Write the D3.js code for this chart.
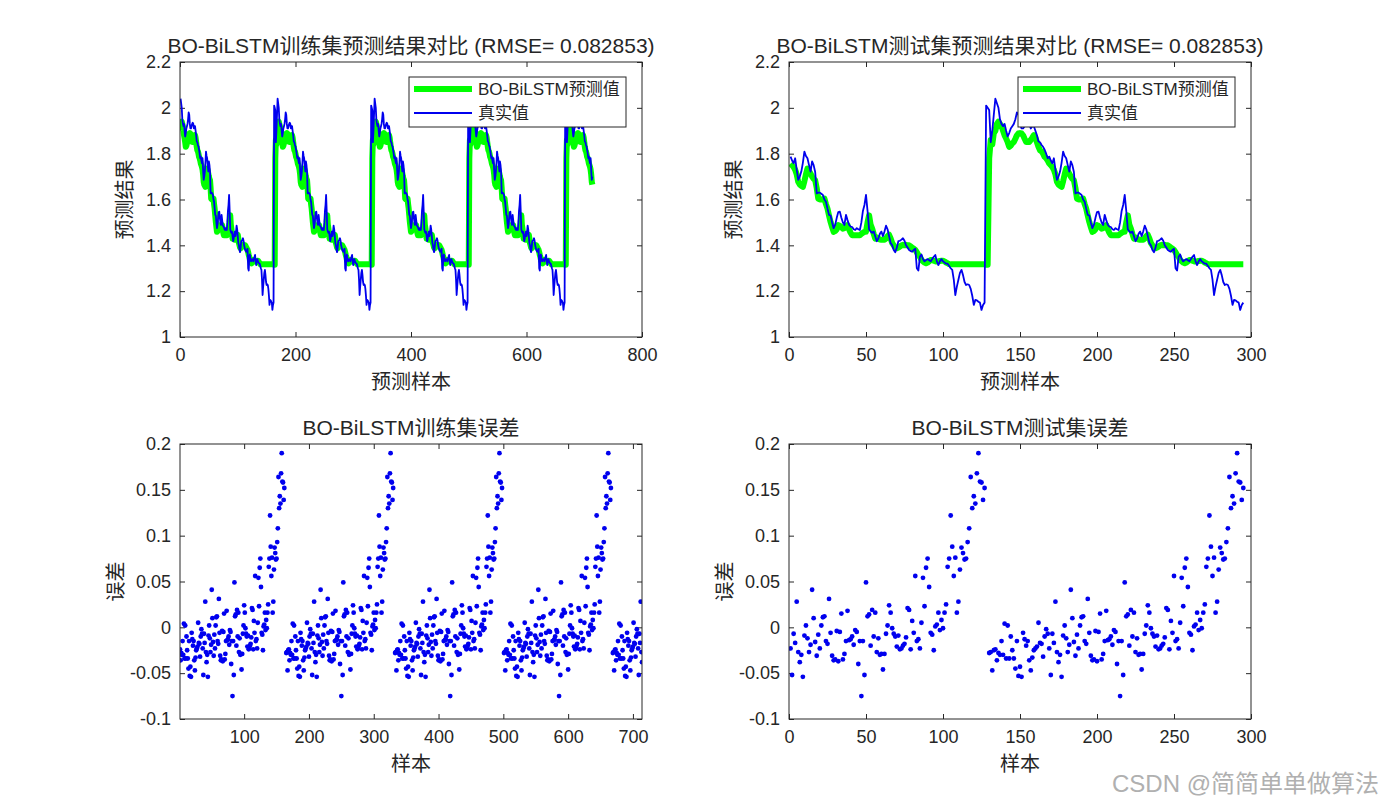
<!DOCTYPE html>
<html>
<head>
<meta charset="utf-8">
<script src="https://cdn.jsdelivr.net/npm/d3@7"></script>
<style>
  body { margin: 0; background: #fff; }
  text { font-family: "Liberation Sans", Arial, "Noto Sans CJK SC", sans-serif; fill: #262626; }
</style>
</head>
<body>
<svg id="fig" width="1383" height="808"></svg>
<script>
// ── One charge/discharge cycle (offset 0 = jump) ──
const CYCLE_TRUE = [
  2.01, 2.00, 1.99, 1.85, 1.90, 1.97, 2.04, 2.02, 2.00, 1.95,
  1.93, 1.92, 1.93, 1.90, 1.875, 1.89, 1.91, 1.92, 1.93, 1.95,
  1.98, 1.97, 1.93, 1.91, 1.91, 1.92, 1.93, 1.935, 1.93, 1.91,
  1.92, 1.92, 1.90, 1.88, 1.853, 1.85, 1.838, 1.83, 1.817, 1.80,
  1.78, 1.787, 1.77, 1.758, 1.78, 1.73, 1.686, 1.70, 1.722, 1.76,
  1.809, 1.79, 1.78, 1.75, 1.722, 1.766, 1.75, 1.72, 1.627, 1.63,
  1.63, 1.625, 1.62, 1.60, 1.59, 1.56, 1.533, 1.53, 1.50, 1.475,
  1.49, 1.52, 1.545, 1.547, 1.52, 1.50, 1.489, 1.533, 1.51, 1.49,
  1.482, 1.48, 1.47, 1.467, 1.475, 1.47, 1.467, 1.50, 1.55, 1.576,
  1.62, 1.55, 1.47, 1.46, 1.455, 1.46, 1.44, 1.418, 1.43, 1.45,
  1.46, 1.44, 1.46, 1.486, 1.47, 1.44, 1.41, 1.40, 1.38, 1.37,
  1.39, 1.418, 1.42, 1.425, 1.431, 1.42, 1.40, 1.39, 1.38, 1.375,
  1.372, 1.38, 1.385, 1.30, 1.29, 1.35, 1.36, 1.34, 1.33, 1.336,
  1.34, 1.335, 1.33, 1.34, 1.35, 1.358, 1.33, 1.314, 1.33, 1.34,
  1.33, 1.325, 1.32, 1.32, 1.31, 1.30, 1.293, 1.25, 1.183, 1.22,
  1.25, 1.28, 1.293, 1.27, 1.24, 1.227, 1.23, 1.227, 1.21, 1.18,
  1.14, 1.162, 1.16, 1.154, 1.15, 1.118, 1.14, 1.15
];

const CYCLE_PRED = [
  1.315, 1.315, 1.78, 1.86, 1.84, 1.89, 1.90, 1.93, 1.94, 1.93,
  1.92, 1.90, 1.88, 1.866, 1.85, 1.83, 1.835, 1.845, 1.851, 1.865,
  1.88, 1.888, 1.89, 1.888, 1.88, 1.865, 1.851, 1.851, 1.851, 1.86,
  1.87, 1.881, 1.87, 1.85, 1.83, 1.815, 1.81, 1.80, 1.786, 1.78,
  1.77, 1.757, 1.75, 1.742, 1.73, 1.71, 1.677, 1.665, 1.66, 1.655,
  1.68, 1.71, 1.735, 1.725, 1.713, 1.70, 1.69, 1.684, 1.65, 1.604,
  1.60, 1.60, 1.602, 1.604, 1.58, 1.56, 1.53, 1.502, 1.48, 1.459,
  1.462, 1.47, 1.488, 1.485, 1.48, 1.473, 1.475, 1.48, 1.488, 1.47,
  1.455, 1.444, 1.444, 1.444, 1.444, 1.444, 1.444, 1.45, 1.455, 1.459,
  1.459, 1.50, 1.531, 1.49, 1.473, 1.45, 1.429, 1.435, 1.43, 1.425,
  1.424, 1.424, 1.424, 1.43, 1.44, 1.446, 1.43, 1.41, 1.40, 1.39,
  1.387, 1.39, 1.395, 1.40, 1.402, 1.40, 1.402, 1.40, 1.40, 1.395,
  1.39, 1.385, 1.38, 1.37, 1.358, 1.35, 1.336, 1.33, 1.325, 1.322,
  1.325, 1.33, 1.336, 1.336, 1.333, 1.33, 1.33, 1.33, 1.332, 1.333,
  1.333, 1.33, 1.325, 1.322, 1.318, 1.317, 1.317, 1.317, 1.317, 1.317,
  1.317, 1.317, 1.317, 1.317, 1.317, 1.317, 1.317, 1.317, 1.317, 1.317,
  1.317, 1.317, 1.317, 1.317, 1.317, 1.317, 1.317, 1.317
];

// errors per offset; the first two fall below the axis (gap in the scatter)
const CYCLE_ERR = [
  -0.69, -0.68,
  -0.028, -0.027, -0.047, -0.025, -0.024, -0.036, -0.028, -0.030, -0.015, -0.030, 0.004, -0.034,
  0.002, -0.034, -0.010, -0.025, -0.034, -0.045, -0.015, -0.053, -0.043, -0.054,
  -0.006, -0.013, -0.020, -0.015, -0.036, -0.047, -0.033, -0.025, -0.023, -0.021,
  0.005, -0.017, -0.018, -0.032, -0.010, -0.002, -0.007, -0.023, -0.052, -0.007,
  -0.017, 0.028, -0.027, -0.038, -0.030, -0.054, -0.009, 0.002, -0.012, -0.027,
  -0.019, 0.041, 0.010, -0.016, -0.031, -0.008, -0.023, 0.002, 0.011, 0.012,
  -0.015, -0.018, 0.031, -0.006, -0.031, -0.036, -0.035, -0.004, -0.037, -0.005,
  0.015, -0.035, -0.029, -0.015, 0.018, -0.014, -0.013, -0.010, -0.019, -0.003,
  -0.005, -0.040, -0.015, -0.075, -0.015, -0.052, 0.049, 0.012,
  0.014, -0.020, 0.019, -0.010, 0.016, -0.027, -0.012, -0.030, -0.029, -0.046,
  -0.029, -0.007, 0.002, 0.024, 0.016, -0.001, -0.007, -0.010, -0.021, -0.009,
  -0.024, -0.023, -0.020, -0.018, -0.011, 0.021, 0.019, -0.024, 0.007, -0.006,
  0.056, -0.015, -0.013, -0.023, 0.005, 0.054, 0.023, 0.065, 0.075, 0.044,
  -0.006, -0.008, -0.025, 0.001, 0.003, 0.016, -0.003, 0.008, -0.001, 0.016,
  0.025, 0.066, 0.075, 0.122, 0.088, 0.056, 0.076, 0.016, 0.028, 0.063,
  0.087, 0.081, 0.074, 0.075, 0.093, 0.108, 0.164, 0.130, 0.143, 0.135,
  0.168, 0.190, 0.159, 0.158, 0.139, 0.152
];

const TRAIN_N = 714, TEST_N = 295;
// cycle offset of the first sample in each set (read from where the jumps sit)
const TRAIN_PHASE = 6, TEST_PHASE = 41;

const RESULT_Y_TICKS = [1, 1.2, 1.4, 1.6, 1.8, 2, 2.2];
const ERR_Y_TICKS = [-0.1, -0.05, 0, 0.05, 0.1, 0.15, 0.2];
const TRAIN_X_TICKS = [0, 200, 400, 600, 800];
const TEST_X_TICKS = [0, 50, 100, 150, 200, 250, 300];
const TRAIN_ERR_X_TICKS = [100, 200, 300, 400, 500, 600, 700];

const TITLES = [
  'BO-BiLSTM训练集预测结果对比 (RMSE= 0.082853)',
  'BO-BiLSTM测试集预测结果对比 (RMSE= 0.082853)',
  'BO-BiLSTM训练集误差',
  'BO-BiLSTM测试集误差'
];
const LEGEND_LABELS = ['BO-BiLSTM预测值', '真实值'];

const GREEN = '#00ff00', BLUE = '#0000ee', AX = '#262626';

const C = CYCLE_TRUE.length;
const pick = (arr, n, phase) => d3.range(n).map(i => arr[(i + phase) % C]);

const trainTrue = pick(CYCLE_TRUE, TRAIN_N, TRAIN_PHASE);
const trainPred = pick(CYCLE_PRED, TRAIN_N, TRAIN_PHASE);
const trainErr = pick(CYCLE_ERR, TRAIN_N, TRAIN_PHASE);
const testTrue = pick(CYCLE_TRUE, TEST_N, TEST_PHASE);
const testPred = pick(CYCLE_PRED, TEST_N, TEST_PHASE);
const testErr = pick(CYCLE_ERR, TEST_N, TEST_PHASE);

const svg = d3.select('#fig');
svg.append('rect').attr('width', 1383).attr('height', 808).attr('fill', '#fff');

const fmt = d => String(+d.toFixed(2));

function makeAxes(id, left, top, w, h, xDom, yDom, xTicks, yTicks) {
  const x = d3.scaleLinear().domain(xDom).range([left, left + w]);
  const y = d3.scaleLinear().domain(yDom).range([top + h, top]);
  const g = svg.append('g').attr('class', 'ax-' + id);

  svg.append('clipPath').attr('id', 'clip-' + id)
    .append('rect').attr('x', left).attr('y', top).attr('width', w).attr('height', h);

  const style = sel => {
    sel.select('.domain').remove();
    sel.selectAll('line').attr('stroke', AX);
    sel.selectAll('text').attr('font-size', '18px').attr('fill', AX)
      .attr('font-family', '"Liberation Sans", Arial, sans-serif');
  };

  g.append('g').attr('transform', `translate(0,${top + h})`)
    .call(d3.axisBottom(x).tickValues(xTicks).tickSize(-5).tickPadding(11).tickFormat(fmt))
    .call(style);
  g.append('g').attr('transform', `translate(0,${top})`)
    .call(d3.axisTop(x).tickValues(xTicks).tickSize(-5).tickFormat(''))
    .call(style);
  g.append('g').attr('transform', `translate(${left},0)`)
    .call(d3.axisLeft(y).tickValues(yTicks).tickSize(-5).tickPadding(9).tickFormat(fmt))
    .call(style);
  g.append('g').attr('transform', `translate(${left + w},0)`)
    .call(d3.axisRight(y).tickValues(yTicks).tickSize(-5).tickFormat(''))
    .call(style);

  return { x, y, g, left, top, w, h, id };
}

function frame(ax) {
  svg.append('rect')
    .attr('x', ax.left).attr('y', ax.top).attr('width', ax.w).attr('height', ax.h)
    .attr('fill', 'none').attr('stroke', AX).attr('stroke-width', 1);
}

function labels(ax, title, xlab, ylab, ylabX) {
  const cx = ax.left + ax.w / 2;
  svg.append('text').attr('x', cx).attr('y', ax.top - 9)
    .attr('text-anchor', 'middle').attr('font-size', '21px').attr('fill', '#000')
    .text(title);
  svg.append('text').attr('x', cx).attr('y', ax.top + ax.h + 52)
    .attr('text-anchor', 'middle').attr('font-size', '20px')
    .text(xlab);
  svg.append('text')
    .attr('transform', `translate(${ylabX},${ax.top + ax.h / 2}) rotate(-90)`)
    .attr('text-anchor', 'middle').attr('font-size', '20px')
    .text(ylab);
}

function resultPanel(ax, pred, truth) {
  const line = d3.line().x((d, i) => ax.x(i + 1)).y(d => ax.y(d));
  const lay = svg.append('g').attr('clip-path', `url(#clip-${ax.id})`);
  lay.append('path').datum(pred).attr('d', line)
    .attr('fill', 'none').attr('stroke', GREEN).attr('stroke-width', 6)
    .attr('stroke-linejoin', 'round');
  lay.append('path').datum(truth).attr('d', line)
    .attr('fill', 'none').attr('stroke', BLUE).attr('stroke-width', 1.8)
    .attr('stroke-linejoin', 'round');

  // legend
  const lx = ax.left + 229, ly = 77;
  const lg = svg.append('g');
  lg.append('rect').attr('x', lx).attr('y', ly).attr('width', 217).attr('height', 50)
    .attr('fill', '#fff').attr('stroke', AX).attr('stroke-width', 1);
  const rows = [{ c: GREEN, w: 6, dy: 12 }, { c: BLUE, w: 1.8, dy: 36 }];
  rows.forEach((r, i) => {
    lg.append('line').attr('x1', lx + 5).attr('x2', lx + 63)
      .attr('y1', ly + r.dy).attr('y2', ly + r.dy)
      .attr('stroke', r.c).attr('stroke-width', r.w);
    lg.append('text').attr('x', lx + 69).attr('y', ly + r.dy + 6)
      .attr('font-size', '17px').attr('fill', '#000')
      .text(LEGEND_LABELS[i]);
  });
}

function errorPanel(ax, err) {
  const [lo, hi] = ax.y.domain();
  const pts = err.map((e, i) => ({ i: i + 1, e })).filter(d => d.e >= lo && d.e <= hi);
  svg.append('g').attr('clip-path', `url(#clip-${ax.id})`)
    .selectAll('circle').data(pts).join('circle')
    .attr('cx', d => ax.x(d.i)).attr('cy', d => ax.y(d.e))
    .attr('r', 2.4).attr('fill', BLUE);
}

// ── top row: fitted results ──
const a1 = makeAxes('tl', 180, 62, 462, 275, [0, 800], [1, 2.2], TRAIN_X_TICKS, RESULT_Y_TICKS);
resultPanel(a1, trainPred, trainTrue);
frame(a1);
labels(a1, TITLES[0], '预测样本', '预测结果', 132);

const a2 = makeAxes('tr', 789, 62, 462, 275, [0, 300], [1, 2.2], TEST_X_TICKS, RESULT_Y_TICKS);
resultPanel(a2, testPred, testTrue);
frame(a2);
labels(a2, TITLES[1], '预测样本', '预测结果', 741);

// ── bottom row: errors ──
const a3 = makeAxes('bl', 180, 444, 462, 275, [1, TRAIN_N], [-0.1, 0.2], TRAIN_ERR_X_TICKS, ERR_Y_TICKS);
errorPanel(a3, trainErr);
frame(a3);
labels(a3, TITLES[2], '样本', '误差', 123);

const a4 = makeAxes('br', 789, 444, 462, 275, [0, 300], [-0.1, 0.2], TEST_X_TICKS, ERR_Y_TICKS);
errorPanel(a4, testErr);
frame(a4);
labels(a4, TITLES[3], '样本', '误差', 732);

// watermark
svg.append('text').attr('x', 1379).attr('y', 792).attr('text-anchor', 'end')
  .attr('font-size', '24px').style('fill', '#b0b0b0')
  .attr('font-family', '"Noto Sans CJK SC", sans-serif')
  .text('CSDN @简简单单做算法');
</script>
</body>
</html>
